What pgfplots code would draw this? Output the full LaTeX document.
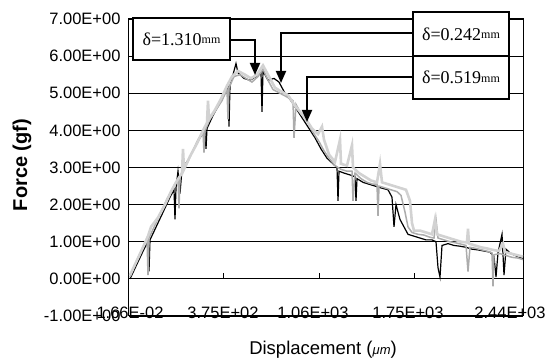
\documentclass[border=0pt]{standalone}
\usepackage{fontspec}
\setmainfont{Liberation Sans}
\newfontfamily\serifdelta{Liberation Serif}
\usepackage{pgfplots}
\pgfplotsset{compat=1.18}
\usetikzlibrary{arrows.meta}

\newcommand{\dlabel}[1]{{\serifdelta\fontsize{18}{18}\selectfont δ=#1\raisebox{1.5pt}{\fontsize{12}{12}\selectfont mm}}}

\begin{document}
\begin{tikzpicture}[x=1pt,y=1pt]
\path[use as bounding box] (-129,-47) rectangle (427,316);
\begin{axis}[at={(0,0)}, anchor=south west, scale only axis,
  width=394pt, height=297pt,
  xmin=129, xmax=523, ymin=-1, ymax=7,
  xtick={130,223,313,408,510},
  xticklabels={1.66E-02,3.75E+02,1.06E+03,1.75E+03,2.44E+03},
  ytick={-1,0,1,2,3,4,5,6,7},
  yticklabels={-1.00E+00,0.00E+00,1.00E+00,2.00E+00,3.00E+00,4.00E+00,5.00E+00,6.00E+00,7.00E+00},
  ymajorgrids, grid style={black, line width=0.9pt},
  major tick length=0pt,
  axis line style={black, line width=1pt},
  every tick label/.append style={font=\fontsize{16.5}{16.5}\selectfont},
  xticklabel style={font=\fontsize{16.5}{16.5}\selectfont, anchor=base, yshift=-3pt},
  yticklabel style={font=\fontsize{16.5}{16.5}\selectfont, anchor=east, xshift=-5pt},
  clip=false,
]
% black series
\addplot[black, line width=1.2pt] coordinates {
(130,0.00)(137,0.40)(144,0.80)(148,1.00)(149,0.20)(150,1.05)(157,1.45)(164,1.85)(170,2.20)(174,2.40)(175,1.60)(176,2.45)(178,2.90)(180,2.30)(182,2.95)(188,3.20)(194,3.50)(200,3.80)(205,4.00)(206,3.50)(207,4.05)(213,4.40)(219,4.70)(224,4.95)(228,5.15)(229,4.10)(230,5.20)(234,5.60)(236,5.80)(238,5.55)(244,5.40)(250,5.35)(256,5.45)(261,5.55)(262,4.50)(263,5.60)(268,5.35)(274,5.40)(279,5.30)(285,5.00)(291,4.80)(297,4.55)(303,4.30)(309,4.05)(315,3.80)(321,3.50)(327,3.25)(333,3.10)(337,3.00)(338,2.10)(339,2.90)(344,2.85)(350,2.80)(355,2.75)(356,2.10)(357,2.70)(363,2.60)(369,2.55)(375,2.50)(381,2.45)(388,2.40)(392,2.20)(394,1.40)(396,2.00)(400,1.60)(404,1.40)(408,1.20)(414,1.15)(420,1.10)(426,1.05)(432,1.05)(436,1.00)(438,0.30)(440,0.05)(442,0.90)(448,0.95)(454,0.90)(460,0.88)(466,0.85)(472,0.80)(478,0.78)(484,0.75)(490,0.72)(494,0.60)(496,0.05)(498,0.70)(502,1.20)(504,0.10)(506,0.80)(510,0.70)(516,0.62)(523,0.55)
};
% medium gray series
\addplot[gray!65, line width=1.5pt] coordinates {
(130,0.05)(136,0.45)(142,0.80)(147,1.10)(148,0.10)(149,1.10)(155,1.45)(161,1.80)(167,2.15)(173,2.45)(178,2.70)(179,1.90)(180,2.75)(186,3.05)(192,3.40)(198,3.75)(203,3.95)(204,3.40)(205,4.00)(210,4.30)(216,4.55)(222,4.80)(227,5.10)(228,4.30)(229,5.15)(234,5.45)(240,5.50)(246,5.40)(252,5.30)(258,5.45)(263,5.65)(268,5.35)(273,5.10)(280,5.00)(287,4.90)(293,4.80)(294,3.80)(296,4.70)(301,4.45)(307,4.25)(313,3.95)(319,3.70)(324,3.45)(329,3.25)(335,3.05)(341,2.95)(347,2.90)(352,2.90)(353,2.10)(355,2.85)(361,2.70)(367,2.60)(373,2.55)(377,2.55)(378,1.70)(379,2.50)(385,2.45)(391,2.40)(397,2.35)(401,2.25)(405,1.80)(408,1.40)(412,1.25)(418,1.20)(424,1.18)(430,1.12)(434,1.10)(436,1.60)(438,1.10)(444,1.05)(450,1.00)(456,0.97)(462,0.93)(466,0.90)(468,0.20)(470,0.85)(476,0.82)(482,0.78)(488,0.74)(492,0.70)(493,-0.20)(494,0.65)(500,0.68)(506,0.63)(512,0.58)(518,0.56)(523,0.52)
};
% light gray series
\addplot[gray!35, line width=2.6pt] coordinates {
(130,0.10)(137,0.50)(143,0.85)(148,1.15)(151,1.40)(158,1.65)(165,2.00)(171,2.35)(176,2.60)(182,2.85)(183,3.50)(184,2.95)(190,3.30)(197,3.65)(203,4.00)(207,4.20)(208,4.80)(209,4.30)(215,4.55)(221,4.85)(227,5.20)(232,5.45)(238,5.60)(245,5.50)(251,5.40)(257,5.50)(263,5.75)(269,5.45)(275,5.15)(281,5.05)(288,4.95)(294,4.70)(300,4.50)(306,4.30)(312,4.05)(318,3.90)(322,4.10)(324,3.75)(329,3.35)(335,3.15)(340,3.75)(341,3.10)(347,3.05)(352,3.60)(353,3.00)(359,2.85)(365,2.75)(371,2.65)(377,2.60)(380,3.10)(382,2.60)(388,2.55)(394,2.50)(400,2.45)(406,2.40)(410,2.10)(412,1.50)(414,1.30)(420,1.30)(426,1.25)(432,1.20)(435,1.60)(437,1.20)(443,1.15)(449,1.10)(455,1.05)(461,1.00)(467,0.98)(468,1.35)(469,0.95)(475,0.90)(481,0.85)(487,0.82)(493,0.78)(499,0.75)(503,0.95)(505,0.72)(511,0.68)(517,0.64)(523,0.60)
};
\draw[black, line width=0.8pt] (axis cs:223,0) -- (axis cs:223,0.15);
\draw[black, line width=0.8pt] (axis cs:319,0) -- (axis cs:319,0.15);
\draw[black, line width=0.8pt] (axis cs:414,0) -- (axis cs:414,0.15);
\end{axis}
% axis labels
\node[rotate=90, font=\bfseries\fontsize{20}{20}\selectfont] at (-107,151) {Force (gf)};
\node[font=\fontsize{18.5}{18.5}\selectfont] at (194,-34) {Displacement ({\fontsize{13}{13}\selectfont\itshape μm})};
% annotations
\draw[line width=1.8pt, -{Triangle[width=10pt,length=12pt]}] (101,276) -| (126,241);
\draw[line width=1.8pt, -{Triangle[width=10pt,length=12pt]}] (284,283) -| (152,233);
\draw[line width=1.8pt, -{Triangle[width=10pt,length=12pt]}] (284,239) -| (178,194);
\draw[line width=1.2pt, fill=white] (4,256) rectangle (101,298);
\node at (52.5,277) {\dlabel{1.310}};
\draw[line width=1.2pt, fill=white] (284,260) rectangle (380,304);
\node at (332,282) {\dlabel{0.242}};
\draw[line width=1.2pt, fill=white] (284,217) rectangle (380,260);
\node at (332,238.5) {\dlabel{0.519}};
\end{tikzpicture}
\end{document}
